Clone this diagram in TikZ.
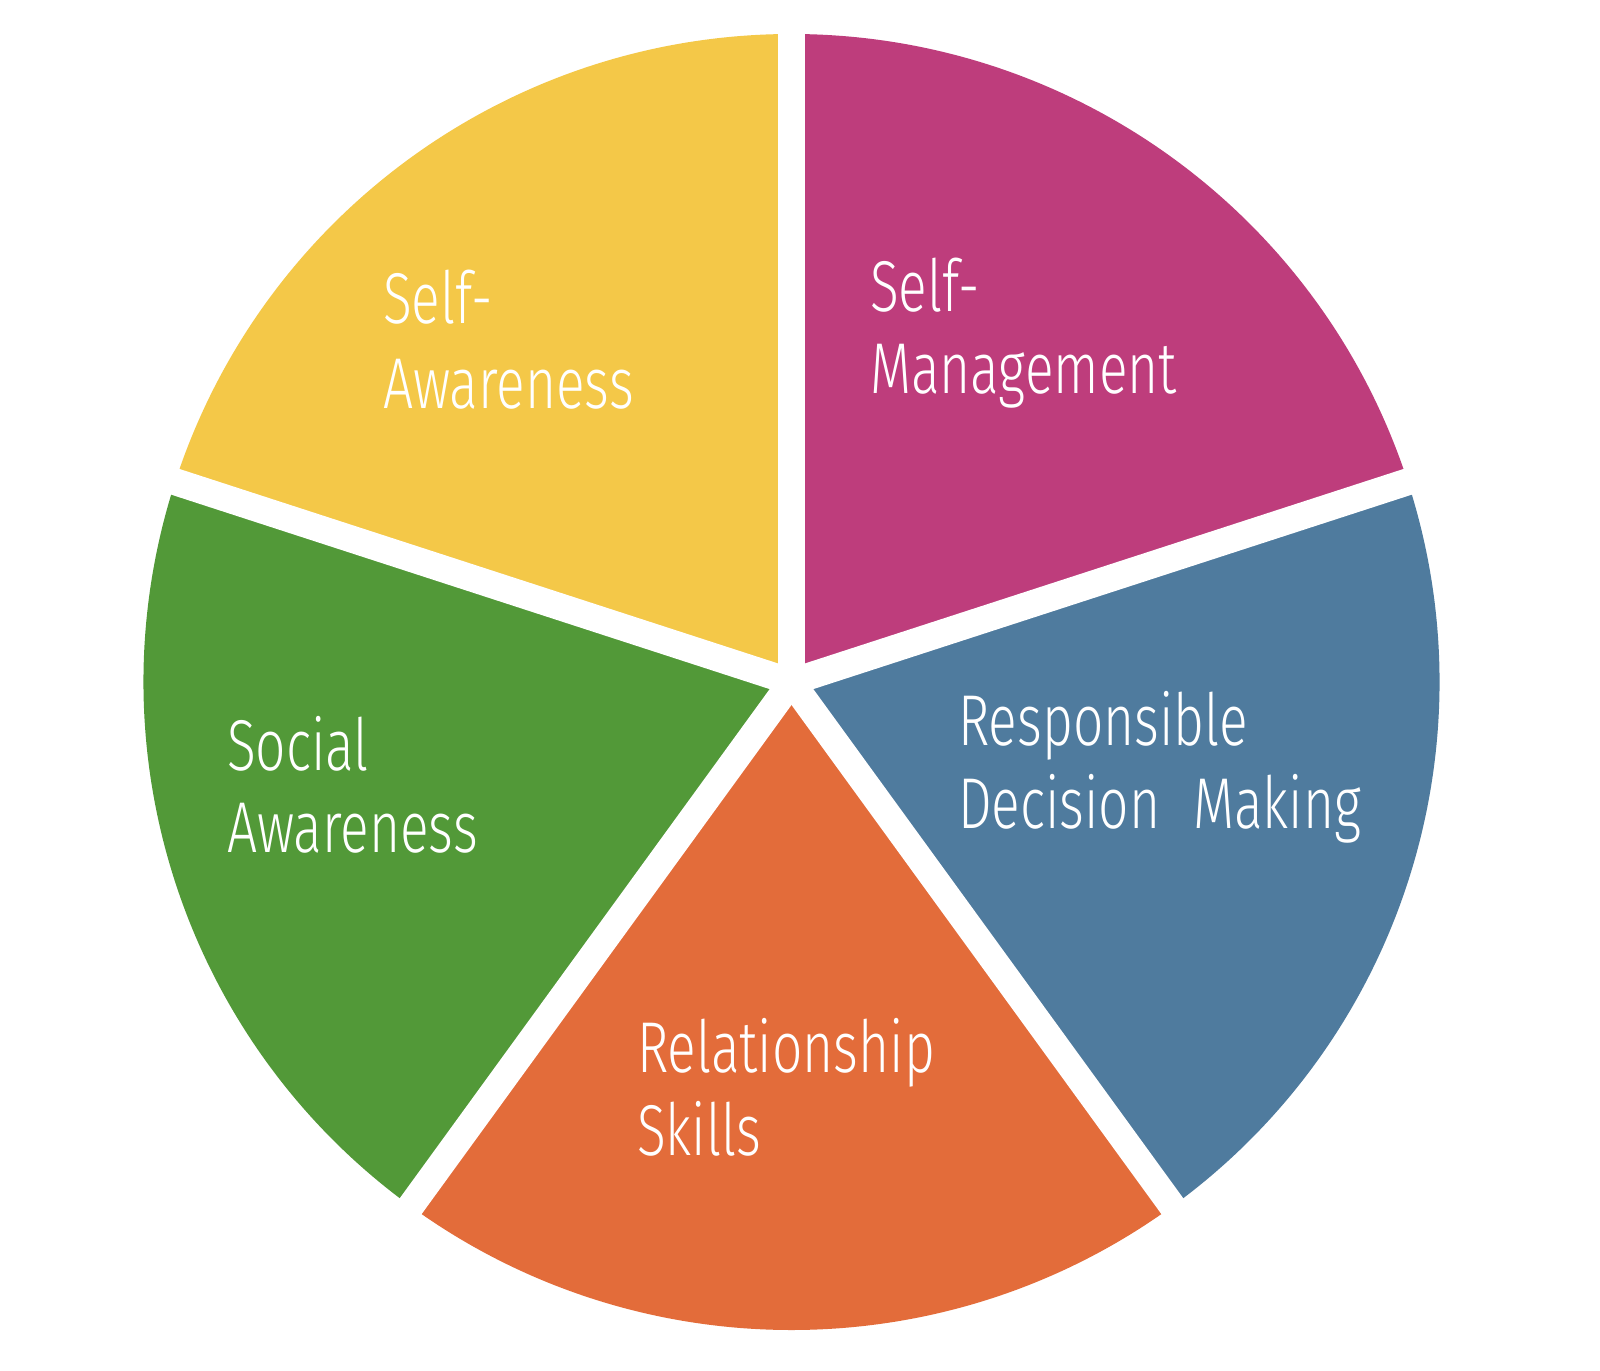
\documentclass[tikz,border=0pt]{standalone}
\usepackage{fontspec}
\setmainfont{Fira Sans Light}[FakeStretch=0.74]
\definecolor{cyellow}{RGB}{244,200,72}
\definecolor{cmagenta}{RGB}{190,61,124}
\definecolor{cgreen}{RGB}{82,153,56}
\definecolor{cblue}{RGB}{79,123,158}
\definecolor{corange}{RGB}{227,108,58}
\begin{document}
\begin{tikzpicture}[x=1pt,y=1pt,
  lbl/.style={anchor=base west,inner sep=0pt,text=white,font=\fontsize{72}{80}\selectfont},
  gap/.style={draw=white,line width=27pt,line cap=butt}]
\useasboundingbox (0,0) rectangle (1600,-1370);
\fill[white] (0,0) rectangle (1600,-1370);
\coordinate (C) at (791.5,-682);
\def\R{648}
\fill[cyellow]  (C) -- ++(90:\R)  arc[start angle=90,end angle=162,radius=\R] -- cycle;
\fill[cmagenta] (C) -- ++(18:\R)  arc[start angle=18,end angle=90,radius=\R] -- cycle;
\fill[cblue]    (C) -- ++(-54:\R) arc[start angle=-54,end angle=18,radius=\R] -- cycle;
\fill[corange]  (C) -- ++(-126:\R) arc[start angle=-126,end angle=-54,radius=\R] -- cycle;
\fill[cgreen]   (C) -- ++(162:\R) arc[start angle=162,end angle=234,radius=\R] -- cycle;
\foreach \a in {90,18,-54,-126,162}{
  \draw[gap] (C) -- ++(\a:700);
}
\node[lbl] (sa1) at (383,-323) {Self-};
\node[lbl] (sa2) at (383,-408) {Awareness};
\node[lbl] (sm1) at (870,-311) {Self-};
\node[lbl] (sm2) at (870,-393) {Management};
\node[lbl] (so1) at (227,-770) {Social};
\node[lbl] (so2) at (227,-852) {Awareness};
\node[lbl] (rd1) at (958,-745) {Responsible};
\node[lbl] (rd2) at (958,-828) {Decision\hspace{0.25em} Making};
\node[lbl] (rs1) at (637,-1072) {Relationship};
\node[lbl] (rs2) at (637,-1155) {Skills};
\end{tikzpicture}
\end{document}
